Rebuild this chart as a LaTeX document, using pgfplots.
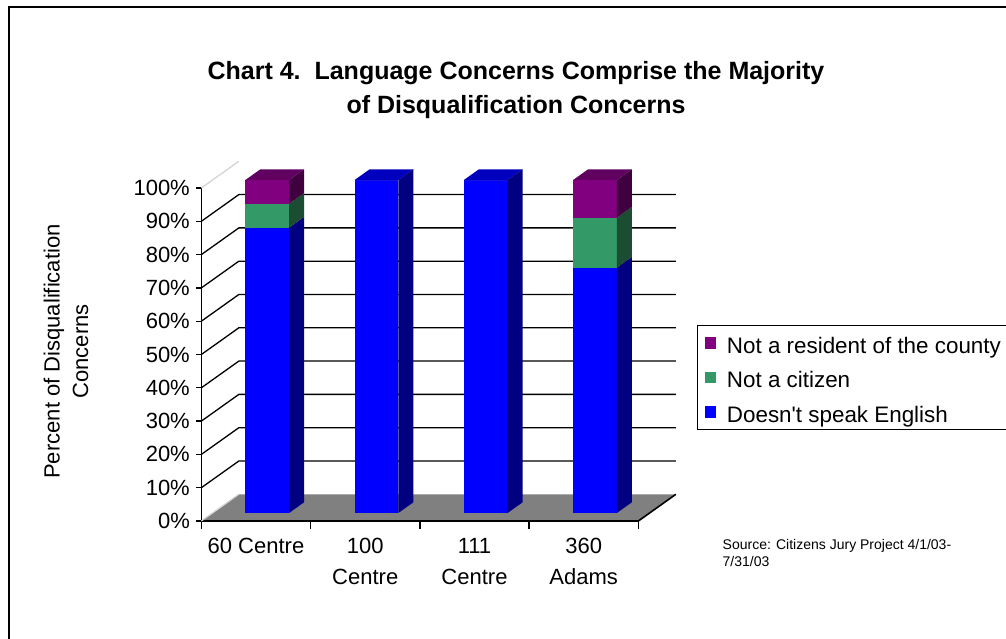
\documentclass[border=0pt]{standalone}
\usepackage{fontspec}
\setmainfont{Liberation Sans}
\usepackage{pgfplots}
\usepackage{pgfplotstable}
\pgfplotsset{compat=1.18}
\definecolor{bF}{RGB}{0,0,255}
\definecolor{bS}{RGB}{0,0,128}
\definecolor{bT}{RGB}{0,0,190}
\definecolor{gF}{RGB}{51,153,102}
\definecolor{gS}{RGB}{27,77,51}
\definecolor{pF}{RGB}{128,0,128}
\definecolor{pS}{RGB}{64,0,64}
\definecolor{pT}{RGB}{96,0,96}
\definecolor{floorc}{RGB}{128,128,128}

\pgfplotstableread{
idx blue green purple
0 85.7 7.15 7.15
1 100 0 0
2 100 0 0
3 73.7 15.0 11.3
}\data

\def\DX{0.3432}
\def\DY{8.02}

% one stacked segment: #1 category, #2 bottom, #3 top, #4 front colour, #5 side colour
\newcommand\seg[5]{%
 \pgfmathsetmacro\xL{#1+0.3*\DX-0.2}%
 \pgfmathsetmacro\xR{#1+0.3*\DX+0.2}%
 \pgfmathsetmacro\xB{#1+0.7*\DX+0.2}%
 \pgfmathsetmacro\yF{#2+0.3*\DY}%
 \pgfmathsetmacro\yG{#3+0.3*\DY}%
 \pgfmathsetmacro\yH{#2+0.7*\DY}%
 \pgfmathsetmacro\yI{#3+0.7*\DY}%
 \edef\tmp{\noexpand\addplot[fill=#4,draw=none,mark=none,forget plot] coordinates {(\xL,\yF) (\xR,\yF) (\xR,\yG) (\xL,\yG)};
 \noexpand\addplot[fill=#5,draw=none,mark=none,forget plot] coordinates {(\xR,\yF) (\xB,\yH) (\xB,\yI) (\xR,\yG)};}%
 \tmp}

\begin{document}
\begin{tikzpicture}[x=1pt,y=1pt]
\useasboundingbox (0,0) rectangle (1006,638);
\draw[line width=2pt] (9,-10) -- (9,630.5) -- (1030,630.5);
\node[anchor=base, font=\bfseries\fontsize{25}{30}\selectfont] at (516,558) {Chart 4.\ \ Language Concerns Comprise the Majority};
\node[anchor=base, font=\bfseries\fontsize{25}{30}\selectfont] at (516,524) {of Disqualification Concerns};
\node[rotate=90, align=center, inner sep=0pt, font=\fontsize{22}{28.3}\selectfont] at (66,286.5) {Percent of Disqualification\\Concerns};
\node[anchor=north west, align=left, inner sep=0pt, font=\fontsize{14}{17}\selectfont] at (722.5,99) {Source: Citizens Jury Project 4/1/03-\\7/31/03};
\begin{scope}[shift={(201.35pt,117pt)}]
\begin{axis}[
 at={(0pt,0pt)}, anchor=south west,
 scale only axis, width=437pt, height=333pt,
 xmin=-0.5, xmax=3.5, ymin=0, ymax=100,
 clip=false,
 axis lines=left, axis line style={-, line width=1.6pt, black},
 tick align=outside,
 ytick={0,10,...,100},
 yticklabels={0\%,10\%,20\%,30\%,40\%,50\%,60\%,70\%,80\%,90\%,100\%},
 major tick length=5pt,
 y tick style={black, line width=1.3pt},
 xtick={0,1,2,3},
 xticklabels={60 Centre,{100\\Centre},{111\\Centre},{360\\Adams}},
 major x tick style={draw=none},
 minor xtick={-0.5,0.5,1.5,2.5,3.5},
 minor tick length=8pt,
 minor x tick style={black, line width=1.3pt},
 tick label style={font=\fontsize{22}{30.5}\selectfont},
 yticklabel style={xshift=-3pt},
 xticklabel style={align=center, anchor=north, yshift=-9pt},
 legend style={at={(1.1342,0.5886)}, anchor=north west, draw=black, line width=1.3pt, fill=white,
   font=\fontsize{22.4}{26}\selectfont, inner xsep=7pt, inner ysep=5pt, row sep=10pt, column sep=9pt,
   nodes={inner sep=2pt, text height=20.5pt, text depth=0pt}},
 legend cell align=left,
]
% floor
\addplot[fill=floorc, draw=none, mark=none, forget plot] coordinates {(-0.5,0) (3.5,0) (3.8432,8.02) (-0.1568,8.02)};
\addplot[black, line width=1.6pt, mark=none, forget plot] coordinates {(-0.5,0) (3.5,0) (3.8432,8.02)};
\addplot[gray!35, line width=1.2pt, mark=none, forget plot] coordinates {(-0.5,0) (-0.1568,8.02)};
\addplot[gray!35, line width=1.2pt, mark=none, forget plot] coordinates {(-0.5,100) (-0.1568,108.02)};
% side wall diagonals and back wall gridlines
\pgfplotsinvokeforeach{1,2,3,4,5,6,7,8,9}{
 \pgfmathsetmacro\gy{10*#1}
 \pgfmathsetmacro\gyb{10*#1+\DY}
 \edef\tmp{\noexpand\addplot[black,line width=1.3pt,mark=none,forget plot] coordinates {(-0.5,\gy) (-0.1568,\gyb) (3.8432,\gyb)};}\tmp
}
% bars
\pgfplotsinvokeforeach{0,1,2,3}{
 \pgfplotstablegetelem{#1}{blue}\of\data \let\vb\pgfplotsretval
 \pgfplotstablegetelem{#1}{green}\of\data \let\vg\pgfplotsretval
 \pgfplotstablegetelem{#1}{purple}\of\data \let\vp\pgfplotsretval
 \pgfmathsetmacro\yb{\vb}
 \pgfmathsetmacro\yc{\vb+\vg}
 \pgfmathsetmacro\yd{\vb+\vg+\vp}
 \seg{#1}{0}{\yb}{bF}{bS}
 \seg{#1}{\yb}{\yc}{gF}{gS}
 \seg{#1}{\yc}{\yd}{pF}{pS}
 \pgfmathtruncatemacro\hasp{\vp>0}
 \ifnum\hasp=1 \def\tc{pT}\else\def\tc{bT}\fi
 \pgfmathsetmacro\xL{#1+0.3*\DX-0.2}
 \pgfmathsetmacro\xR{#1+0.3*\DX+0.2}
 \pgfmathsetmacro\xB{#1+0.7*\DX+0.2}
 \pgfmathsetmacro\xLB{#1+0.7*\DX-0.2}
 \pgfmathsetmacro\yG{\yd+0.3*\DY}
 \pgfmathsetmacro\yI{\yd+0.7*\DY}
 \edef\tmp{\noexpand\addplot[fill=\tc,draw=none,mark=none,forget plot] coordinates {(\xL,\yG) (\xR,\yG) (\xB,\yI) (\xLB,\yI)};}\tmp
}
\addlegendimage{legend image code/.code={\fill[pF] (0pt,-5pt) rectangle (10pt,5pt);}}
\addlegendentry{Not a resident of the county}
\addlegendimage{legend image code/.code={\fill[gF] (0pt,-5pt) rectangle (10pt,5pt);}}
\addlegendentry{Not a citizen}
\addlegendimage{legend image code/.code={\fill[bF] (0pt,-5pt) rectangle (10pt,5pt);}}
\addlegendentry{Doesn\textquotesingle t speak English}
\end{axis}
\end{scope}
\end{tikzpicture}
\end{document}
